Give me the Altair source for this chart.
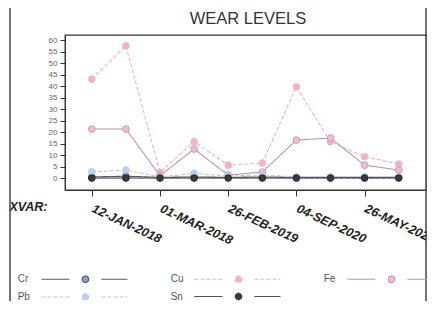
import altair as alt
import pandas as pd

TITLE = "WEAR LEVELS"
X_TITLE = "XVAR:"
X_LABELS = ["12-JAN-2018", "01-MAR-2018", "26-FEB-2019", "04-SEP-2020", "26-MAY-2021"]
SAMPLE_NO = [1, 2, 3, 4, 5, 6, 7, 8, 9, 10]
SERIES = ["Cr", "Cu", "Fe", "Pb", "Sn"]
CR = [0.5, 0.8, 0.3, 0.5, 0.3, 0.5, 0.3, 0.3, 0.3, 0.3]
CU = [43.0, 57.5, 2.5, 15.8, 5.6, 6.5, 39.7, 15.8, 9.3, 6.1]
FE = [21.3, 21.3, 1.0, 12.6, 1.3, 2.6, 16.5, 17.4, 5.6, 3.5]
PB = [2.7, 3.5, 0.5, 2.0, 0.9, 1.3, 0.5, 0.5, 0.5, 0.5]
SN = [0, 0, 0, 0, 0, 0, 0, 0, 0, 0]
Y_TICKS = [0, 5, 10, 15, 20, 25, 30, 35, 40, 45, 50, 55, 60]
LINE_COLORS = ["#55586e", "#e6b4c8", "#b596ad", "#b3c6e2", "#1e1e1e"]
DOT_COLORS = ["#8a9ac0", "#f2b3c8", "#f3bcd4", "#bccfea", "#3a3a3a"]
LINE_WIDTHS = [1.1, 1.0, 1.1, 1.0, 2.0]
LINE_DASHES = [[1, 0], [4, 2], [1, 0], [4, 2], [1, 0]]

values = [CR, CU, FE, PB, SN]
rows = []
for name, vals in zip(SERIES, values):
    for n, v in zip(SAMPLE_NO, vals):
        rows.append({"sample": n, "value": v, "series": name})
df = pd.DataFrame(rows)

label_array = "[" + ",".join("'" + s + "'" for s in X_LABELS) + "]"

# legend symbol (size 144 -> 6 px per unit, centred ~6.6 px into the entry):
# line 24-52 px, dot at 68 px, line 84-110 px; the label sits in front of it
SYM = ("M2.9,0H7.57M12.9,0H17.23"
       "M10.8,0A0.55,0.55,0,1,1,9.7,0A0.55,0.55,0,1,1,10.8,0Z")

legend = alt.Legend(
    title=None, orient="none", legendX=-48, legendY=237, columns=3, direction="horizontal",
    symbolType=SYM, symbolSize=144, symbolStrokeWidth=1.3,
    labelOffset=alt.ExprRef("-13.3"), labelAlign="left", labelFont="Liberation Sans",
    labelFontSize=10, labelColor="#555555", columnPadding=40, rowPadding=5,
)

xenc = alt.X(
    "sample:Q",
    scale=alt.Scale(domain=[0.214, 10.83], nice=False, zero=False),
    axis=alt.Axis(
        values=[1, 3, 5, 7, 9], labelExpr=label_array + "[(datum.value - 1) / 2]",
        labelAngle=25, labelAlign="left", labelBaseline="top", labelPadding=6,
        labelOffset=3,
        labelFont="Liberation Sans", labelFontSize=12.5, labelFontWeight="bold",
        labelFontStyle="italic", labelColor="#222222", tickSize=6, tickColor="#333333",
        domainColor="#333333", grid=False, title=X_TITLE, titleX=-56, titleY=20,
        titleAlign="left", titleBaseline="alphabetic", titleAngle=0,
        titleFont="Liberation Sans", titleFontSize=12.5, titleFontWeight="bold",
        titleFontStyle="italic", titleColor="#222222", labelOverlap=False,
    ),
)
yenc = alt.Y(
    "value:Q",
    scale=alt.Scale(domain=[-5.2, 62.2], nice=False, zero=False),
    axis=alt.Axis(
        values=Y_TICKS, title=None, grid=False, tickSize=5, labelPadding=3,
        labelFont="Liberation Sans", labelFontSize=8, labelColor="#666666",
        tickColor="#333333", domainColor="#333333",
    ),
)

stroke = alt.Stroke("series:N", scale=alt.Scale(domain=SERIES, range=LINE_COLORS), legend=legend)
fill = alt.Fill("series:N", scale=alt.Scale(domain=SERIES, range=DOT_COLORS), legend=legend)

lines = alt.Chart(df).mark_line().encode(
    x=xenc, y=yenc, stroke=stroke,
    strokeWidth=alt.StrokeWidth("series:N", scale=alt.Scale(domain=SERIES, range=LINE_WIDTHS), legend=None),
    strokeDash=alt.StrokeDash("series:N", scale=alt.Scale(domain=SERIES, range=LINE_DASHES), legend=None),
)
points = alt.Chart(df).mark_point(filled=True, size=45, strokeWidth=0.8, opacity=1).encode(
    x=xenc, y=yenc, stroke=stroke, fill=fill,
)

one = pd.DataFrame({"k": [0]})
frame_left = alt.Chart(one).mark_rule(color="#444444", strokeWidth=1.5).encode(
    x=alt.value(-55), y=alt.value(-28), y2=alt.value(290))
frame_top = alt.Chart(one).mark_rule(color="#444444", strokeWidth=1.5).encode(
    x=alt.value(-55), x2=alt.value(361), y=alt.value(-28))
frame_right = alt.Chart(one).mark_rule(color="#444444", strokeWidth=1.5).encode(
    x=alt.value(361), y=alt.value(-28), y2=alt.value(290))
title = alt.Chart(pd.DataFrame({"t": [TITLE]})).mark_text(
    font="Liberation Sans", fontSize=16.5, color="#333333", baseline="alphabetic", align="center"
).encode(text="t:N", x=alt.value(183), y=alt.value(-11))

chart = alt.layer(frame_left, frame_top, frame_right, title, lines, points).properties(
    width=362, height=155,
    autosize=alt.AutoSizeParams(type="none"),
    padding={"left": 57, "top": 27, "right": 0, "bottom": 111},
).configure_view(stroke="#333333", strokeWidth=1.3)

chart.save("out.html", embed_options={"renderer": "svg", "actions": False})
